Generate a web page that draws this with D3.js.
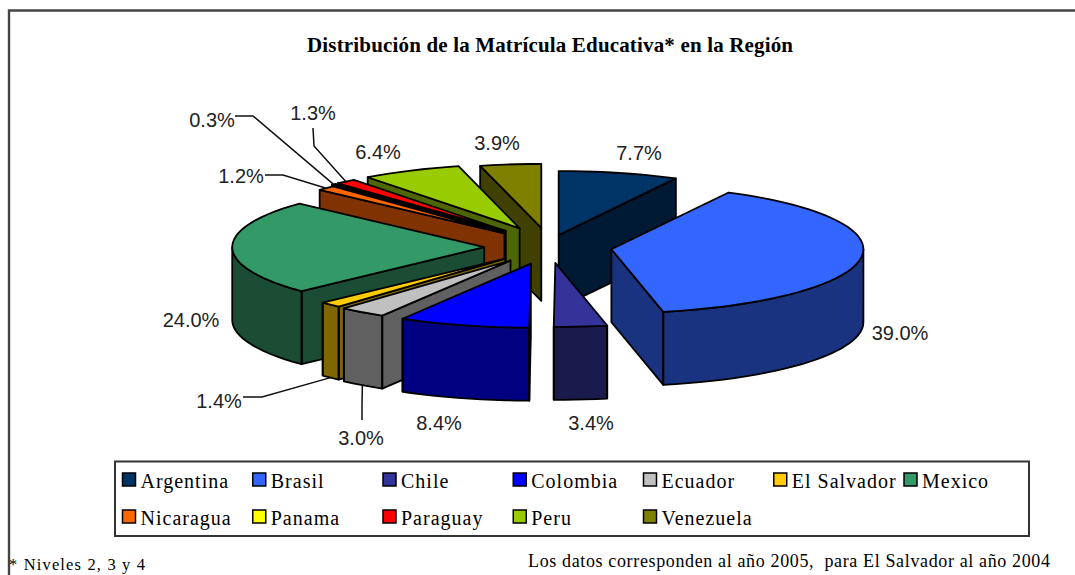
<!DOCTYPE html>
<html lang="es">
<head>
<meta charset="utf-8">
<title>Distribución de la Matrícula Educativa</title>
<script src="https://cdn.jsdelivr.net/npm/d3@7/dist/d3.min.js"></script>
<style>
html,body{margin:0;padding:0;background:#fff;overflow:hidden}
svg{display:block}
</style>
</head>
<body>
<svg id="chart" width="1075" height="575"></svg>
<script>
// ---- data ----
const countries = ["Argentina","Brasil","Chile","Colombia","Ecuador","El Salvador","Mexico","Nicaragua","Panama","Paraguay","Peru","Venezuela"];
const shares = [7.7,39.0,3.4,8.4,3.0,1.4,24.0,1.2,0.3,1.3,6.4,3.9];
const colors = ["#003366","#3366FF","#333399","#0000FF","#C0C0C0","#FFCC00","#339966","#FF6600","#FFFF00","#FF0000","#99CC00","#808000"];
const explosion = [0.16,0.25,0.25,0.27,0.26,0.25,0.257,0.25,0.27,0.27,0.27,0.25];
const paintOrder = ["Argentina","Venezuela","Peru","Paraguay","Panama","Nicaragua","Mexico","Brasil","El Salvador","Ecuador","Colombia","Chile"];
const titleText = "Distribución de la Matrícula Educativa* en la Región";
const noteLeft = "* Niveles 2, 3 y 4";
const noteRight = "Los datos corresponden al año 2005,  para El Salvador al año 2004";

// ---- layout ----
const W = 1075, H = 575;
const center = {x:549, y:247}, Rx = 252, Ry = 64, depth = 73;
const labelPlace = {
  "Argentina":{x:639,y:160}, "Brasil":{x:900,y:340}, "Chile":{x:591,y:430}, "Colombia":{x:439,y:430},
  "Ecuador":{x:361,y:445}, "El Salvador":{x:219,y:408}, "Mexico":{x:191,y:327}, "Nicaragua":{x:241,y:183},
  "Panama":{x:212,y:127}, "Paraguay":{x:313,y:120}, "Peru":{x:378,y:159}, "Venezuela":{x:497,y:150}
};
const leaders = {
  "Panama":{from:[235,116],elbow:[253,116]},
  "Paraguay":{from:[313,128],elbow:[314,146]},
  "Nicaragua":{from:[265,175],elbow:[283,175]},
  "El Salvador":{from:[243,397],elbow:[262,397],bottom:true},
  "Ecuador":{from:[362,420],elbow:[362,405],bottom:true}
};
const legendBox = {x:115,y:461.5,w:914,h:74.5};
const legendCols = d3.scaleLinear().domain([0,6]).range([122.5,904]);
const legendRows = d3.scaleLinear().domain([0,1]).range([473,510]);
const LEGEND_PER_ROW = 7;

const svg = d3.select("#chart");
svg.append("rect").attr("width",W).attr("height",H).attr("fill","#fff");

// frame: open on the right and bottom, as in the source image
svg.append("path").attr("d",`M9,${H} V10.5 H${W}`).attr("fill","none").attr("stroke","#444").attr("stroke-width",2.4);

svg.append("text").attr("x",307).attr("y",52).attr("textLength",486).attr("lengthAdjust","spacing")
  .attr("font-family","'Liberation Serif',serif").attr("font-weight","bold").attr("font-size",21)
  .attr("fill","#000").text(titleText);

// ---- pie geometry ----
const pie = d3.pie().value(d=>d.share).sortValues(null).sort(null).startAngle(0).endAngle(2*Math.PI);
const table = countries.map((name,i)=>({name,share:shares[i],color:colors[i],e:explosion[i]}));
const slices = pie(table).map(p=>{
  const mid = (p.startAngle+p.endAngle)/2;
  const c = Math.cos(mid), s = Math.sin(mid);
  const ox = center.x + p.data.e*Rx*s;
  const oy = center.y - p.data.e*Ry*c*(c>0?1.2:1);
  const sx = d3.scaleLinear().domain([-1,1]).range([ox-Rx,ox+Rx]);
  const sy = d3.scaleLinear().domain([-1,1]).range([oy+Ry,oy-Ry]);
  const at = a=>[sx(Math.sin(a)),sy(Math.cos(a))];
  const steps = Math.max(2,Math.ceil((p.endAngle-p.startAngle)/(Math.PI/60)));
  const angles = d3.range(steps+1).map(i=>p.startAngle+(p.endAngle-p.startAngle)*i/steps);
  return {name:p.data.name,share:p.data.share,color:p.data.color,mid,apex:[ox,oy],at,angles,
          start:p.startAngle,end:p.endAngle};
});
const line = d3.line().curve(d3.curveLinear);
const closed = pts=>line(pts)+"Z";
const down = p=>[p[0],p[1]+depth];
const wallColor = c=>{const k=d3.rgb(c);return d3.rgb(k.r/2,k.g/2,k.b/2).formatHex();};

// a radial wall faces the viewer when the wedge interior lies above its top edge
function wallVisible(s,edge){
  const a=s.apex, m=s.at(s.mid);
  if(Math.abs(edge[0]-a[0])<1) return false;
  const yOnEdge=a[1]+(edge[1]-a[1])*(m[0]-a[0])/(edge[0]-a[0]);
  return m[1]<yOnEdge;
}

const order = paintOrder.map(n=>slices.find(s=>s.name===n));
const g = svg.append("g").attr("stroke","#000").attr("stroke-width",1.8).attr("stroke-linejoin","round");
const groups = g.selectAll("g.slice").data(order).join("g").attr("class","slice");

groups.each(function(s){
  const sel = d3.select(this), dark = wallColor(s.color);
  [s.start,s.end].forEach(a=>{
    const p = s.at(a);
    if(wallVisible(s,p)){
      sel.append("path").attr("fill",dark).attr("d",closed([s.apex,p,down(p),down(s.apex)]));
    }
  });
  // outer wall: only the part of the rim on the near half of the ellipse
  const from = Math.max(s.start,Math.PI/2), to = Math.min(s.end,3*Math.PI/2);
  if(to>from){
    const n = Math.max(2,Math.ceil((to-from)/(Math.PI/60)));
    const top = d3.range(n+1).map(i=>s.at(from+(to-from)*i/n));
    sel.append("path").attr("fill",dark).attr("d",closed(top.concat(top.slice().reverse().map(down))));
    // vertical crease between a visible radial wall and the rim
    [from,to].forEach(a=>{
      if(a===s.start||a===s.end){
        const p=s.at(a);
        sel.append("path").attr("fill","none").attr("d",line([p,down(p)]));
      }
    });
  }
  sel.append("path").attr("fill",s.color).attr("d",closed([s.apex].concat(s.angles.map(s.at))));
});

// ---- leader lines and percent labels ----
slices.forEach(s=>{
  const l = leaders[s.name];
  if(l){
    let end = s.at(s.mid);
    if(l.bottom) end = down(end);
    svg.append("path").attr("fill","none").attr("stroke","#111").attr("stroke-width",1.5)
      .attr("d",line([l.from,l.elbow,end]));
  }
  const pos = labelPlace[s.name];
  svg.append("text").attr("x",pos.x).attr("y",pos.y).attr("text-anchor","middle")
    .attr("font-family","'Liberation Sans',Arial,sans-serif").attr("font-size",20).attr("fill","#222")
    .text(d3.format(".1f")(s.share)+"%");
});

// ---- legend ----
svg.append("rect").attr("x",legendBox.x).attr("y",legendBox.y).attr("width",legendBox.w).attr("height",legendBox.h)
  .attr("fill","#fff").attr("stroke","#333").attr("stroke-width",2);
const items = svg.selectAll("g.legend").data(table).join("g").attr("class","legend")
  .attr("transform",(d,i)=>`translate(${legendCols(i%LEGEND_PER_ROW)},${legendRows(Math.floor(i/LEGEND_PER_ROW))})`);
items.append("rect").attr("width",13).attr("height",13).attr("fill",d=>d.color).attr("stroke","#000").attr("stroke-width",1.5);
items.append("text").attr("x",18).attr("y",14.5)
  .attr("font-family","'Liberation Serif',serif").attr("font-size",20).attr("letter-spacing",1).attr("fill","#000")
  .text(d=>d.name);

// ---- footnotes ----
svg.append("text").attr("x",9).attr("y",570).attr("textLength",136).attr("lengthAdjust","spacing")
  .attr("font-family","'Liberation Serif',serif").attr("font-size",16.5).attr("fill","#000").attr("xml:space","preserve").text(noteLeft);
svg.append("text").attr("x",528).attr("y",567).attr("textLength",522).attr("lengthAdjust","spacing")
  .attr("font-family","'Liberation Serif',serif").attr("font-size",18).attr("fill","#000").attr("xml:space","preserve").text(noteRight);
</script>
</body>
</html>
